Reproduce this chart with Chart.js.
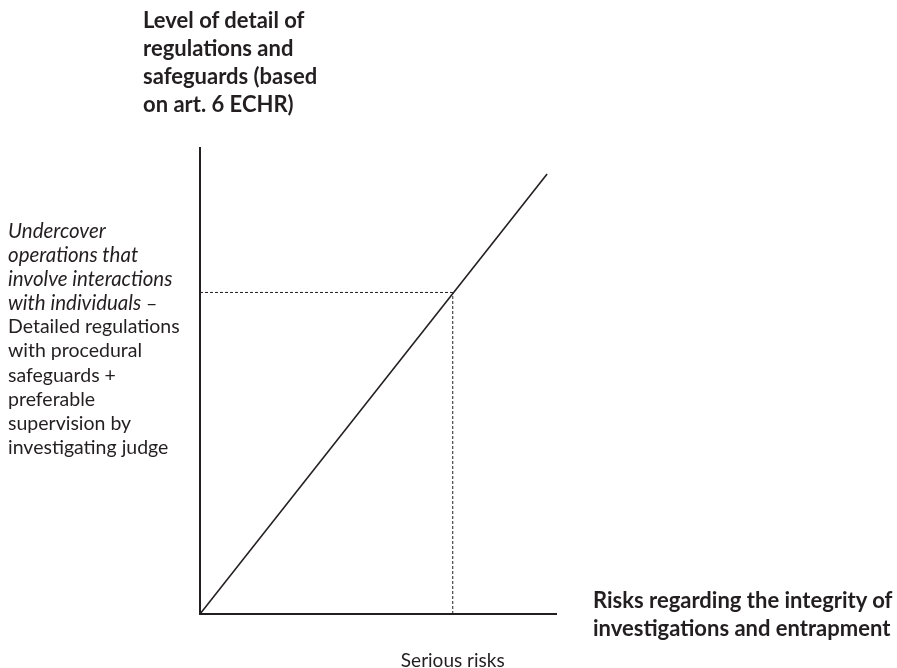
<!DOCTYPE html>
<html>
<head>
<meta charset="utf-8">
<script src="https://cdn.jsdelivr.net/npm/chart.js@4"></script>
<style>
  html, body { margin:0; padding:0; background:#fff; }
  #wrap { position:relative; width:897px; height:668px; overflow:hidden; font-family:Lato, "Open Sans", sans-serif; color:#231f20; }
  #chart { position:absolute; left:0; top:0; }
  .txt { position:absolute; white-space:nowrap; }
  #ytitle { left:143px; top:6px; font-size:22px; font-weight:bold; line-height:28px; }
  #note { left:8px; top:218px; font-size:19.5px; }
  #note div { height:24.1px; line-height:24.1px; }
  #note .it { font-size:20.5px; font-style:italic; }
  #xtitle { left:593px; top:586px; font-size:22px; font-weight:bold; line-height:28px; }
</style>
</head>
<body>
<div id="wrap">
  <canvas id="chart" width="897" height="668"></canvas>
  <div class="txt" id="ytitle">Level of detail of<br>regulations and<br>safeguards (based<br>on art. 6 ECHR)</div>
  <div class="txt" id="note">
    <div class="it">Undercover</div>
    <div class="it">operations that</div>
    <div class="it">involve interactions</div>
    <div><span class="it">with individuals</span> –</div>
    <div>Detailed regulations</div>
    <div>with procedural</div>
    <div>safeguards +</div>
    <div>preferable</div>
    <div>supervision by</div>
    <div>investigating judge</div>
  </div>
  <div class="txt" id="xtitle">Risks regarding the integrity of<br>investigations and entrapment</div>
</div>
<script>
// Diagonal line (risk vs level of detail), axis units 0..10
const trendX = [0, 9.75];
const trendY = [0, 9.44];
// the "serious risks" point where the dashed guides meet
const seriousX = 7.1;
const seriousY = 6.9;
const xTickLabels = ["Serious risks"];

const ink = "#231f20";

const toPts = (xs, ys) => xs.map((x, i) => ({x, y: ys[i]}));

new Chart(document.getElementById("chart"), {
  type: "scatter",
  data: {
    datasets: [
      {
        data: toPts(trendX, trendY),
        showLine: true,
        borderColor: ink,
        borderWidth: 1.6,
        pointRadius: 0
      },
      {
        data: toPts([0, seriousX], [seriousY, seriousY]),
        showLine: true,
        borderColor: ink,
        borderWidth: 1,
        borderDash: [3, 2],
        pointRadius: 0
      },
      {
        data: toPts([seriousX, seriousX], [0, seriousY]),
        showLine: true,
        borderColor: ink,
        borderWidth: 1,
        borderDash: [3, 2],
        pointRadius: 0
      }
    ]
  },
  options: {
    responsive: false,
    animation: false,
    layout: { padding: { top: 148, right: 341, left: 0, bottom: 0 } },
    plugins: { legend: { display: false }, tooltip: { enabled: false } },
    scales: {
      x: {
        type: "linear",
        min: 0,
        max: 10,
        grid: { display: false, drawTicks: false },
        border: { display: true, color: ink, width: 2 },
        afterBuildTicks: s => { s.ticks = [{value: seriousX}]; },
        afterFit: s => { s.height = 54; },
        ticks: {
          padding: 35,
          color: ink,
          font: { family: "Lato", size: 19 },
          callback: () => xTickLabels[0]
        }
      },
      y: {
        type: "linear",
        min: 0,
        max: 10,
        grid: { display: false, drawTicks: false },
        border: { display: true, color: ink, width: 2 },
        afterFit: s => { s.width = 200; },
        ticks: { display: false }
      }
    }
  }
});
</script>
</body>
</html>
